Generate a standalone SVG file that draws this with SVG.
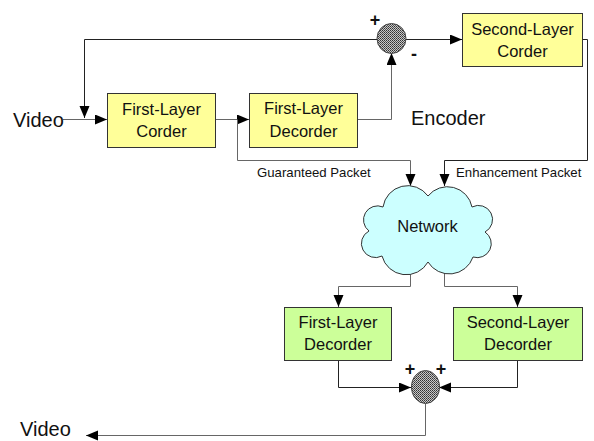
<svg xmlns="http://www.w3.org/2000/svg" width="594" height="441" viewBox="0 0 594 441">
  <defs>
    <marker id="arr" markerUnits="userSpaceOnUse" markerWidth="14" markerHeight="12" refX="12" refY="5" orient="auto">
      <path d="M0,0 L12,5 L0,10 Z" fill="#000"/>
    </marker>
    <pattern id="dots" width="2" height="2" patternUnits="userSpaceOnUse">
      <rect width="2" height="2" fill="#c8c8c8"/>
      <rect width="1" height="1" fill="#333"/>
      <rect x="1" y="1" width="1" height="1" fill="#555"/>
    </pattern>
    <style>
      .box rect { stroke: #333; stroke-width: 1; }
      .yellow rect { fill: #FFFF99; }
      .green rect { fill: #CCFF99; }
      .lbl { font-family: "Liberation Sans", Arial, sans-serif; font-size: 16.5px; fill: #111; text-anchor: middle; }
      .big { font-family: "Liberation Sans", Arial, sans-serif; font-size: 20px; fill: #111; }
      .small { font-family: "Liberation Sans", Arial, sans-serif; font-size: 13.2px; fill: #111; }
      .sign { font-family: "Liberation Sans", Arial, sans-serif; font-size: 18px; font-weight: bold; fill: #111; text-anchor: middle; }
      .c { fill: none; stroke: #222; stroke-width: 1; }
      .g { fill: none; stroke: #666; stroke-width: 1; }
      .sum { fill: url(#dots); stroke: #444; stroke-width: 1; }
    </style>
  </defs>

  <g id="connectors">
    <path class="c" d="M377,39.5 H84.5 V118" marker-end="url(#arr)"/>
    <path class="g" d="M63,119.5 H107" marker-end="url(#arr)"/>
    <path class="g" d="M215,119.5 H249" marker-end="url(#arr)"/>
    <path class="g" d="M357,119.5 H391.5 V53" marker-end="url(#arr)"/>
    <path class="c" d="M406,39.5 H462" marker-end="url(#arr)"/>
    <path class="c" d="M582,39.5 H587.5 V160.5 H444.5 V186" marker-end="url(#arr)"/>
    <path class="g" d="M237.5,119.5 V160.5 H410.5 V186" marker-end="url(#arr)"/>
    <path class="g" d="M410.5,270 V286.5 H338.5 V307" marker-end="url(#arr)"/>
    <path class="g" d="M444.5,270 V286.5 H517.5 V307" marker-end="url(#arr)"/>
    <path class="c" d="M338.5,360 V387.5 H411" marker-end="url(#arr)"/>
    <path class="c" d="M517.5,361 V387.5 H439" marker-end="url(#arr)"/>
    <path class="g" d="M425.5,403.5 V435.5 H86" marker-end="url(#arr)"/>
  </g>

  <g id="video-in">
    <text class="big" x="13" y="127">Video</text>
  </g>

  <g id="first-layer-corder" class="box yellow">
    <rect x="107.5" y="93.5" width="108" height="54"/>
    <text class="lbl" x="161.5" y="115">First-Layer</text>
    <text class="lbl" x="161.5" y="137">Corder</text>
  </g>

  <g id="first-layer-decorder-enc" class="box yellow">
    <rect x="249.5" y="93.5" width="108" height="54"/>
    <text class="lbl" x="303.5" y="114">First-Layer</text>
    <text class="lbl" x="303.5" y="137">Decorder</text>
  </g>

  <g id="sum-top">
    <ellipse class="sum" cx="391.5" cy="38.5" rx="14.5" ry="15"/>
    <text class="sign" x="375" y="26">+</text>
    <text class="sign" x="414" y="60">-</text>
  </g>

  <g id="second-layer-corder" class="box yellow">
    <rect x="462.5" y="13.5" width="120" height="53"/>
    <text class="lbl" x="522.5" y="34.5">Second-Layer</text>
    <text class="lbl" x="522.5" y="57">Corder</text>
  </g>

  <g id="encoder-label">
    <text class="big" x="411" y="125">Encoder</text>
  </g>

  <g id="packet-labels">
    <text class="small" x="257" y="177">Guaranteed Packet</text>
    <text class="small" x="456" y="177">Enhancement Packet</text>
  </g>

  <g id="network">
    <path d="M383,207 A25,25 0 0 1 428,196 A25,25 0 0 1 472,207 A14,14 0 0 1 485,232 A14,14 0 0 1 473,257 A25,25 0 0 1 428,262 A25,25 0 0 1 382,256 A14,14 0 0 1 369,231 A14,14 0 0 1 383,207 Z" fill="#CCFFFF" stroke="#333" stroke-width="1"/>
    <text class="lbl" x="427.5" y="232">Network</text>
  </g>

  <g id="first-layer-decorder" class="box green">
    <rect x="284.5" y="307.5" width="107" height="53"/>
    <text class="lbl" x="338" y="328">First-Layer</text>
    <text class="lbl" x="338" y="350">Decorder</text>
  </g>

  <g id="second-layer-decorder" class="box green">
    <rect x="453.5" y="307.5" width="129" height="53"/>
    <text class="lbl" x="518" y="328">Second-Layer</text>
    <text class="lbl" x="518" y="350">Decorder</text>
  </g>

  <g id="sum-bottom">
    <ellipse class="sum" cx="425.5" cy="387" rx="14" ry="16.5"/>
    <text class="sign" x="410" y="375">+</text>
    <text class="sign" x="441" y="375">+</text>
  </g>

  <g id="video-out">
    <text class="big" x="20" y="436">Video</text>
  </g>
</svg>
